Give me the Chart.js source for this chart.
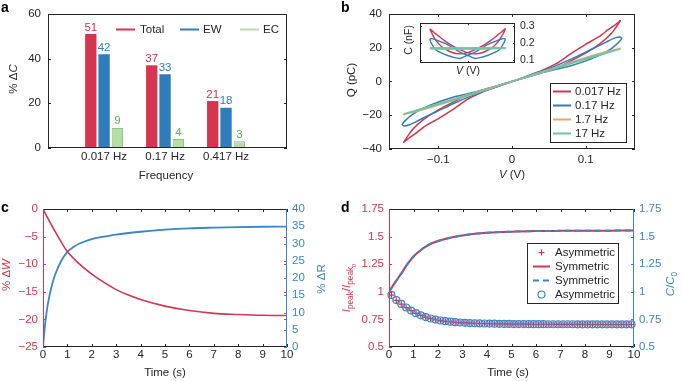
<!DOCTYPE html>
<html>
<head>
<meta charset="utf-8">
<script src="https://cdn.jsdelivr.net/npm/chart.js@4.4.1/dist/chart.umd.min.js"></script>
<style>
  body { margin: 0; background: #fff; width: 682px; height: 381px; position: relative; overflow: hidden; }
  canvas { position: absolute; }
</style>
</head>
<body>
<canvas id="chartA" width="341" height="190" style="left:0;top:0;width:341px;height:190px"></canvas>
<canvas id="chartB" width="341" height="190" style="left:341px;top:0;width:341px;height:190px"></canvas>
<canvas id="chartInset" width="140" height="68" style="left:396px;top:12px;width:140px;height:68px"></canvas>
<canvas id="chartC" width="341" height="191" style="left:0;top:190px;width:341px;height:191px"></canvas>
<canvas id="chartD" width="341" height="191" style="left:341px;top:190px;width:341px;height:191px"></canvas>
<script>
// ---- panel a: % change of capacitance per frequency
const freqLabels = ['0.017 Hz', '0.17 Hz', '0.417 Hz'];
const freqPos = [1, 2, 3];
const totalVals = [51, 37, 21];
const ewVals = [42, 33, 18];
const ecVals = [9, 4, 3];

// ---- panel b: Q-V loops (V in volts, Q in pC)
const vRed = [0, 0.02, 0.04, 0.06, 0.08, 0.10, 0.12, 0.135, 0.147, 0.14, 0.13, 0.12, 0.10, 0.08, 0.06, 0.04, 0.02, 0,
  -0.02, -0.04, -0.06, -0.08, -0.10, -0.12, -0.135, -0.147, -0.14, -0.13, -0.12, -0.10, -0.08, -0.06, -0.04, -0.02, 0];
const qRed = [0, 2.6, 5.3, 8, 12.2, 16.8, 22.5, 28.5, 36, 33.5, 30.5, 27, 22, 16.5, 10.5, 6.3, 3.1, 0,
  -2.6, -5.3, -8, -12.2, -16.8, -22.5, -28.5, -36, -33.5, -30.5, -27, -22, -16.5, -10.5, -6.3, -3.1, 0];
const vBlue = [0, 0.02, 0.04, 0.06, 0.08, 0.10, 0.12, 0.135, 0.145, 0.149, 0.147, 0.14, 0.13, 0.12, 0.10, 0.08, 0.06, 0.04, 0.02, 0,
  -0.02, -0.04, -0.06, -0.08, -0.10, -0.12, -0.135, -0.145, -0.149, -0.147, -0.14, -0.13, -0.12, -0.10, -0.08, -0.06, -0.04, -0.02, 0];
const qBlue = [0, 2.5, 5, 7.2, 9.3, 12.2, 15.8, 19.5, 23.2, 25.5, 26.3, 25.8, 23.8, 21.5, 17.4, 13.2, 9.4, 6, 3, 0,
  -2.5, -5, -7.2, -9.3, -12.2, -15.8, -19.5, -23.2, -25.5, -26.3, -25.8, -23.8, -21.5, -17.4, -13.2, -9.4, -6, -3, 0];
const vFast = [0, 0.03, 0.06, 0.09, 0.12, 0.147, 0.12, 0.09, 0.06, 0.03, 0,
  -0.03, -0.06, -0.09, -0.12, -0.147, -0.12, -0.09, -0.06, -0.03, 0];
const qOrange = [0, 3.8, 7.8, 11.9, 15.9, 19.6, 16.7, 12.7, 8.5, 4.3, 0,
  -3.8, -7.8, -11.9, -15.9, -19.6, -16.7, -12.7, -8.5, -4.3, 0];
const qTeal = [0, 4, 8, 12, 15.7, 19.2, 16.2, 12.4, 8.3, 4.1, 0,
  -4, -8, -12, -15.7, -19.2, -16.2, -12.4, -8.3, -4.1, 0];
const bTicksX = [-0.1, 0, 0.1];

// ---- panel b inset: C-V curves (C in nF)
const vInRed = [-0.147, -0.13, -0.11, -0.09, -0.06, -0.03, 0, 0.03, 0.06, 0.09, 0.11, 0.13, 0.147,
  0.13, 0.11, 0.09, 0.06, 0.03, 0, -0.03, -0.06, -0.09, -0.11, -0.13, -0.147];
const cInRed = [0.283, 0.262, 0.238, 0.215, 0.186, 0.163, 0.145, 0.138, 0.146, 0.168, 0.193, 0.232, 0.283,
  0.262, 0.238, 0.215, 0.186, 0.163, 0.145, 0.138, 0.146, 0.168, 0.193, 0.232, 0.283];
const vInBlue = [-0.147, -0.143, -0.135, -0.127, -0.115, -0.10, -0.08, -0.06, -0.03, 0, 0.03, 0.05, 0.07, 0.09, 0.11, 0.127, 0.14, 0.147,
  0.143, 0.135, 0.127, 0.115, 0.10, 0.08, 0.06, 0.03, 0, -0.03, -0.05, -0.07, -0.09, -0.11, -0.127, -0.14, -0.147];
const cInBlue = [0.225, 0.205, 0.185, 0.167, 0.152, 0.142, 0.13, 0.12, 0.111, 0.13, 0.148, 0.167, 0.185, 0.2, 0.212, 0.221, 0.226, 0.225,
  0.205, 0.185, 0.167, 0.152, 0.142, 0.13, 0.12, 0.111, 0.13, 0.148, 0.167, 0.185, 0.2, 0.212, 0.221, 0.226, 0.225];
const vInFlat = [-0.147, -0.1, -0.05, 0, 0.05, 0.1, 0.147, 0.1, 0.05, 0, -0.05, -0.1, -0.147];
const cInOrange = [0.171, 0.168, 0.167, 0.167, 0.168, 0.17, 0.172, 0.173, 0.172, 0.171, 0.17, 0.171, 0.171];
const cInTeal = [0.17, 0.169, 0.169, 0.169, 0.169, 0.17, 0.171, 0.171, 0.17, 0.17, 0.17, 0.17, 0.17];
const insetTicksY = [0.1, 0.2, 0.3];

// ---- panel c: %dW and %dR over time
const wTimes = [0, 0.25, 0.5, 0.75, 1, 1.5, 2, 2.5, 3, 3.5, 4, 5, 6, 7, 8, 9, 10];
const dW = [0, -2.1, -4.1, -6.0, -7.7, -10.0, -11.8, -13.3, -14.6, -15.6, -16.4, -17.6, -18.4, -18.9, -19.1, -19.25, -19.3];
const rTimes = [0, 0.05, 0.1, 0.2, 0.3, 0.4, 0.5, 0.75, 1, 1.25, 1.5, 2, 2.5, 3, 4, 5, 6, 7, 8, 9, 10];
const dR = [0, 4, 7.5, 12.5, 16, 18.8, 21, 25, 27.6, 29, 30, 31.3, 32, 32.6, 33.4, 34, 34.4, 34.6, 34.75, 34.85, 34.9];

// ---- panel d: normalised peak current and capacitance
const symTimes = [0, 0.25, 0.5, 0.75, 1, 1.25, 1.5, 1.75, 2, 2.5, 3, 3.5, 4, 5, 6, 7, 8, 9, 10];
const iPeakSym = [1, 1.085, 1.165, 1.25, 1.32, 1.37, 1.41, 1.44, 1.46, 1.49, 1.51, 1.525, 1.535, 1.545, 1.55, 1.552, 1.553, 1.554, 1.555];
const cRatioSym = [1, 1.085, 1.165, 1.25, 1.32, 1.37, 1.41, 1.44, 1.46, 1.49, 1.51, 1.525, 1.535, 1.545, 1.55, 1.552, 1.553, 1.554, 1.555];
const asymTimes = [0.1, 0.3, 0.5, 0.7, 0.9, 1.1, 1.3, 1.5, 1.7, 1.9, 2.1, 2.3, 2.5, 2.7, 2.9, 3.1, 3.3, 3.5, 3.7, 3.9,
  4.1, 4.3, 4.5, 4.7, 4.9, 5.1, 5.3, 5.5, 5.7, 5.9, 6.1, 6.3, 6.5, 6.7, 6.9, 7.1, 7.3, 7.5, 7.7, 7.9,
  8.1, 8.3, 8.5, 8.7, 8.9, 9.1, 9.3, 9.5, 9.7, 9.9];
const iPeakAsym = [0.97, 0.922, 0.888, 0.856, 0.829, 0.805, 0.786, 0.77, 0.757, 0.747, 0.739, 0.733, 0.728, 0.724, 0.721, 0.718, 0.716, 0.715, 0.713, 0.712,
  0.711, 0.71, 0.71, 0.709, 0.708, 0.708, 0.707, 0.707, 0.707, 0.706, 0.706, 0.706, 0.706, 0.706, 0.705, 0.705, 0.705, 0.705, 0.705, 0.705,
  0.705, 0.704, 0.704, 0.704, 0.704, 0.704, 0.704, 0.704, 0.704, 0.704];
const cRatioAsym = [0.972, 0.925, 0.89, 0.858, 0.83, 0.806, 0.787, 0.771, 0.758, 0.748, 0.74, 0.734, 0.729, 0.725, 0.722, 0.719, 0.717, 0.715, 0.714, 0.713,
  0.712, 0.711, 0.71, 0.709, 0.709, 0.708, 0.708, 0.708, 0.707, 0.707, 0.707, 0.707, 0.706, 0.706, 0.706, 0.706, 0.706, 0.706, 0.705, 0.705,
  0.705, 0.705, 0.705, 0.705, 0.705, 0.705, 0.705, 0.705, 0.705, 0.705];

const FAM = '"Liberation Sans", Arial, Helvetica, sans-serif';
const INK = '#262626';
const RED = '#d6344f';
const BLUE = '#2f7cbd';
const BLUE_AX = '#3a86c8';
const ORANGE = '#eba56a';
const TEAL = '#6cc6a6';
const GREEN_FILL = '#b3dfa6';
const GREEN_EDGE = '#8cc67f';
const GREEN_TXT = '#63a958';

Chart.defaults.font.family = FAM;
Chart.defaults.font.size = 11.5;
Chart.defaults.color = INK;

const font = (size, style) => ((style ? style + ' ' : '') + size + 'px ' + FAM);
const xy = (xs, ys) => xs.map((x, i) => ({ x: x, y: ys[i] }));
const fixW = w => scale => { scale.width = w; };
const fixH = h => scale => { scale.height = h; };
const setTicks = vals => scale => { scale.ticks = vals.map(v => ({ value: v })); };
const minus = v => (v < 0 ? '\u2212' + (-v) : String(v));
const plain = v => String(+v.toFixed(2));
const noGrid = { display: false, drawTicks: false };
const noBorder = { display: false };

function richText(ctx, o) {
  const size = o.size || 11.5;
  ctx.save();
  ctx.translate(o.x, o.y);
  if (o.rot) ctx.rotate(o.rot);
  ctx.fillStyle = o.color || INK;
  ctx.textBaseline = 'alphabetic';
  ctx.textAlign = 'left';
  const parts = o.segs.map(s => {
    const sz = s.sub === 2 ? size * 0.5 : s.sub ? size * 0.72 : size;
    ctx.font = font(sz, s.it ? 'italic' : '');
    return { s: s, sz: sz, w: ctx.measureText(s.t).width };
  });
  let cx = -parts.reduce((a, p) => a + p.w, 0) / 2;
  parts.forEach(p => {
    ctx.font = font(p.sz, p.s.it ? 'italic' : '');
    const dy = p.s.sub === 2 ? size * 0.5 : p.s.sub ? size * 0.3 : 0;
    ctx.fillText(p.s.t, cx, dy);
    cx += p.w;
  });
  ctx.restore();
}

function drawFrame(ctx, a, f) {
  const l = Math.round(a.left) + 0.5, r = Math.round(a.right) - 0.5;
  const t = Math.round(a.top) + 0.5, b = Math.round(a.bottom) - 0.5;
  ctx.lineWidth = 1;
  [['top', l, t, r, t], ['bottom', l, b, r, b], ['left', l, t - 0.5, l, b + 0.5], ['right', r, t - 0.5, r, b + 0.5]].forEach(s => {
    if (!f[s[0]]) return;
    ctx.strokeStyle = f[s[0]];
    ctx.beginPath(); ctx.moveTo(s[1], s[2]); ctx.lineTo(s[3], s[4]); ctx.stroke();
  });
}

function drawTicks(chart, t) {
  const ctx = chart.ctx, a = chart.chartArea, s = chart.scales[t.scale], len = t.len || 3;
  ctx.strokeStyle = t.color; ctx.lineWidth = 1;
  s.ticks.forEach(tk => {
    const p = Math.round(s.getPixelForValue(tk.value)) + 0.5;
    ctx.beginPath();
    t.sides.forEach(side => {
      if (side === 'bottom') { ctx.moveTo(p, a.bottom); ctx.lineTo(p, a.bottom - len); }
      if (side === 'top') { ctx.moveTo(p, a.top); ctx.lineTo(p, a.top + len); }
      if (side === 'left') { ctx.moveTo(a.left, p); ctx.lineTo(a.left + len, p); }
      if (side === 'right') { ctx.moveTo(a.right, p); ctx.lineTo(a.right - len, p); }
    });
    ctx.stroke();
  });
}

function drawLegend(ctx, lg) {
  if (lg.box) {
    const b = lg.box;
    ctx.fillStyle = '#fff'; ctx.fillRect(b[0], b[1], b[2], b[3]);
    ctx.strokeStyle = INK; ctx.lineWidth = 1; ctx.strokeRect(b[0] + 0.5, b[1] + 0.5, b[2], b[3]);
  }
  lg.items.forEach(it => {
    ctx.save();
    ctx.strokeStyle = it.color; ctx.lineWidth = 2;
    const mx = (it.x1 + it.x2) / 2;
    ctx.beginPath();
    if (it.kind === 'line' || it.kind === 'dash') {
      if (it.kind === 'dash') ctx.setLineDash([6, 4]);
      ctx.moveTo(it.x1, it.y); ctx.lineTo(it.x2, it.y);
    } else if (it.kind === 'plus') {
      ctx.lineWidth = 1.2;
      ctx.moveTo(mx - 3, it.y); ctx.lineTo(mx + 3, it.y);
      ctx.moveTo(mx, it.y - 3); ctx.lineTo(mx, it.y + 3);
    } else if (it.kind === 'circle') {
      ctx.lineWidth = 1.2;
      ctx.arc(mx, it.y, 3.5, 0, Math.PI * 2);
    }
    ctx.stroke();
    ctx.restore();
    ctx.fillStyle = INK; ctx.font = font(11.5); ctx.textAlign = 'left'; ctx.textBaseline = 'middle';
    ctx.fillText(it.text, it.tx, it.y + 0.5);
  });
}

function deco(cfg) {
  return {
    id: 'deco',
    beforeDatasetsDraw(chart) {
      if (!cfg.fill) return;
      const a = chart.chartArea;
      chart.ctx.save(); chart.ctx.fillStyle = '#fff'; chart.ctx.fillRect(a.left, a.top, a.width, a.height); chart.ctx.restore();
    },
    afterDatasetsDraw(chart) {
      const ctx = chart.ctx;
      ctx.save();
      (cfg.ticks || []).forEach(t => drawTicks(chart, t));
      drawFrame(ctx, chart.chartArea, cfg.frame);
      if (cfg.barLabels) {
        ctx.font = font(11.5); ctx.textAlign = 'center'; ctx.textBaseline = 'alphabetic';
        chart.data.datasets.forEach((ds, di) => {
          chart.getDatasetMeta(di).data.forEach((bar, i) => {
            ctx.fillStyle = cfg.barLabels[di];
            ctx.fillText(String(ds.data[i].y), bar.x, bar.y - 3.5);
          });
        });
      }
      if (cfg.legend) drawLegend(ctx, cfg.legend);
      (cfg.titles || []).forEach(t => richText(ctx, t));
      if (cfg.letter) {
        ctx.fillStyle = '#000'; ctx.font = font(14, 'bold'); ctx.textAlign = 'left'; ctx.textBaseline = 'alphabetic';
        ctx.fillText(cfg.letter[0], cfg.letter[1], cfg.letter[2]);
      }
      ctx.restore();
    }
  };
}

const base = {
  responsive: false, maintainAspectRatio: false, animation: false,
  plugins: { legend: { display: false }, tooltip: { enabled: false } }
};

// ---------- a
new Chart(document.getElementById('chartA'), {
  type: 'bar',
  data: {
    datasets: [
      { data: xy(freqPos, totalVals), backgroundColor: RED, categoryPercentage: 0.655, barPercentage: 0.85 },
      { data: xy(freqPos, ewVals), backgroundColor: BLUE, categoryPercentage: 0.655, barPercentage: 0.85 },
      { data: xy(freqPos, ecVals), backgroundColor: GREEN_FILL, borderColor: GREEN_EDGE, borderWidth: 1, categoryPercentage: 0.655, barPercentage: 0.85 }
    ]
  },
  options: Object.assign({}, base, {
    layout: { padding: { left: 0, top: 10, right: 54, bottom: 0 } },
    scales: {
      x: { type: 'linear', min: 0.08, max: 4, offset: false, grid: noGrid, border: noBorder,
        afterBuildTicks: setTicks(freqPos), afterFit: fixH(42),
        ticks: { padding: 1.5, maxRotation: 0, callback: (v, i) => freqLabels[i] } },
      y: { min: 0, max: 60, grid: noGrid, border: noBorder, afterFit: fixW(48),
        ticks: { stepSize: 20, padding: 7 } }
    }
  }),
  plugins: [deco({
    frame: { top: INK, bottom: INK, left: INK, right: INK },
    ticks: [{ scale: 'y', sides: ['left', 'right'], color: INK }],
    barLabels: [RED, BLUE, GREEN_TXT],
    legend: { items: [
      { kind: 'line', color: RED, x1: 116, x2: 135, y: 29.5, tx: 140, text: 'Total' },
      { kind: 'line', color: BLUE, x1: 180, x2: 199, y: 29.5, tx: 203, text: 'EW' },
      { kind: 'line', color: GREEN_FILL, x1: 240, x2: 259, y: 29.5, tx: 263, text: 'EC' }
    ] },
    titles: [
      { segs: [{ t: '% \u0394' }, { t: 'C', it: true }], x: 17, y: 79, rot: -Math.PI / 2 },
      { segs: [{ t: 'Frequency' }], x: 166, y: 179 }
    ],
    letter: ['a', 1, 11.5]
  })]
});

// ---------- b
const loop = (xs, ys, color, order, width) => ({
  data: xy(xs, ys), borderColor: color, borderWidth: width || 1.5, pointRadius: 0, tension: 0.2, order: order, fill: false
});
new Chart(document.getElementById('chartB'), {
  type: 'line',
  data: {
    datasets: [
      loop(vFast, qTeal, TEAL, 0),
      loop(vFast, qOrange, ORANGE, 1),
      loop(vBlue, qBlue, BLUE, 2),
      loop(vRed, qRed, RED, 3)
    ]
  },
  options: Object.assign({}, base, {
    layout: { padding: { left: 0, top: 10, right: 47, bottom: 0 } },
    scales: {
      x: { type: 'linear', min: -0.167, max: 0.167, grid: noGrid, border: noBorder,
        afterBuildTicks: setTicks(bTicksX), afterFit: fixH(41),
        ticks: { padding: 3.5, maxRotation: 0, callback: v => minus(v) } },
      y: { min: -40, max: 40, grid: noGrid, border: noBorder, afterFit: fixW(48),
        ticks: { stepSize: 20, padding: 7, callback: v => minus(v) } }
    }
  }),
  plugins: [deco({
    frame: { top: INK, bottom: INK, left: INK, right: INK },
    ticks: [{ scale: 'x', sides: ['bottom', 'top'], color: INK }, { scale: 'y', sides: ['left', 'right'], color: INK }],
    legend: { box: [209, 83, 76, 59], items: [
      { kind: 'line', color: RED, x1: 212, x2: 230, y: 91.5, tx: 234, text: '0.017 Hz' },
      { kind: 'line', color: BLUE, x1: 212, x2: 230, y: 105.5, tx: 234, text: '0.17 Hz' },
      { kind: 'line', color: ORANGE, x1: 212, x2: 230, y: 119.5, tx: 234, text: '1.7 Hz' },
      { kind: 'line', color: TEAL, x1: 212, x2: 230, y: 133.5, tx: 234, text: '17 Hz' }
    ] },
    titles: [
      { segs: [{ t: 'Q (pC)' }], x: 14, y: 80, rot: -Math.PI / 2 },
      { segs: [{ t: 'V', it: true }, { t: ' (V)' }], x: 171, y: 177.5 }
    ],
    letter: ['b', 0, 11.5]
  })]
});

// ---------- b inset
new Chart(document.getElementById('chartInset'), {
  type: 'line',
  data: {
    datasets: [
      loop(vInFlat, cInTeal, TEAL, 0, 2),
      loop(vInFlat, cInOrange, ORANGE, 1, 2),
      loop(vInBlue, cInBlue, BLUE, 2, 1.4),
      loop(vInRed, cInRed, RED, 3, 1.4)
    ]
  },
  options: Object.assign({}, base, {
    layout: { padding: { left: 24, top: 6, right: 0, bottom: 0 } },
    scales: {
      x: { type: 'linear', min: -0.185, max: 0.185, grid: noGrid, border: noBorder,
        afterBuildTicks: setTicks([0]), afterFit: fixH(17), ticks: { display: false } },
      y: { position: 'right', min: 0.085, max: 0.315, grid: noGrid, border: noBorder,
        afterBuildTicks: setTicks(insetTicksY), afterFit: fixW(21),
        ticks: { padding: 5, font: { size: 10.5 }, callback: v => v.toFixed(1) } }
    }
  }),
  plugins: [deco({
    fill: true,
    frame: { top: INK, bottom: INK, left: INK, right: INK },
    ticks: [{ scale: 'x', sides: ['bottom', 'top'], color: INK, len: 2 }, { scale: 'y', sides: ['left', 'right'], color: INK, len: 2 }],
    titles: [
      { segs: [{ t: 'C (nF)' }], x: 16, y: 28, rot: -Math.PI / 2, size: 10.5 },
      { segs: [{ t: 'V', it: true }, { t: ' (V)' }], x: 72, y: 62, size: 10.5 }
    ]
  })]
});

// ---------- c
new Chart(document.getElementById('chartC'), {
  type: 'line',
  data: {
    datasets: [
      { data: xy(wTimes, dW), yAxisID: 'yL', borderColor: RED, borderWidth: 1.6, pointRadius: 0, cubicInterpolationMode: 'monotone' },
      { data: xy(rTimes, dR), yAxisID: 'yR', borderColor: BLUE_AX, borderWidth: 1.8, pointRadius: 0, cubicInterpolationMode: 'monotone' }
    ]
  },
  options: Object.assign({}, base, {
    layout: { padding: { left: 0, top: 19, right: 0, bottom: 0 } },
    scales: {
      x: { type: 'linear', min: 0, max: 10, grid: noGrid, border: noBorder, afterFit: fixH(34),
        ticks: { stepSize: 1, padding: 1, maxRotation: 0 } },
      yL: { position: 'left', min: -25, max: 0, grid: noGrid, border: noBorder, afterFit: fixW(43),
        ticks: { stepSize: 5, padding: 5, color: RED, callback: v => minus(v) } },
      yR: { position: 'right', min: 0, max: 40, grid: noGrid, border: noBorder, afterFit: fixW(54),
        ticks: { stepSize: 5, padding: 5, color: BLUE_AX } }
    }
  }),
  plugins: [deco({
    frame: { top: INK, bottom: INK, left: RED, right: BLUE_AX },
    ticks: [
      { scale: 'x', sides: ['bottom', 'top'], color: INK },
      { scale: 'yL', sides: ['left', 'right'], color: RED },
      { scale: 'yR', sides: ['right'], color: BLUE_AX }
    ],
    titles: [
      { segs: [{ t: '% \u0394' }, { t: 'W', it: true }], x: 10, y: 85, rot: -Math.PI / 2, color: RED },
      { segs: [{ t: '% \u0394R' }], x: 325, y: 89, rot: -Math.PI / 2, color: BLUE_AX },
      { segs: [{ t: 'Time (s)' }], x: 165, y: 186 }
    ],
    letter: ['c', 1, 21.5]
  })]
});

// ---------- d
new Chart(document.getElementById('chartD'), {
  type: 'line',
  data: {
    datasets: [
      { data: xy(symTimes, cRatioSym), yAxisID: 'yR', borderColor: BLUE_AX, borderWidth: 2, borderDash: [6, 4], pointRadius: 0, cubicInterpolationMode: 'monotone', order: 0 },
      { data: xy(symTimes, iPeakSym), yAxisID: 'yL', borderColor: RED, borderWidth: 2, pointRadius: 0, cubicInterpolationMode: 'monotone', order: 1 },
      { data: xy(asymTimes, cRatioAsym), yAxisID: 'yR', showLine: false, pointStyle: 'circle', pointRadius: 3.5,
        pointBorderColor: BLUE_AX, pointBackgroundColor: 'rgba(0,0,0,0)', pointBorderWidth: 1.2, clip: 6, order: 2 },
      { data: xy(asymTimes, iPeakAsym), yAxisID: 'yL', showLine: false, pointStyle: 'cross', pointRadius: 3,
        pointBorderColor: RED, pointBorderWidth: 1.2, clip: 6, order: 3 }
    ]
  },
  options: Object.assign({}, base, {
    layout: { padding: { left: 0, top: 19, right: 0, bottom: 0 } },
    scales: {
      x: { type: 'linear', min: 0, max: 10, grid: noGrid, border: noBorder, afterFit: fixH(34),
        ticks: { stepSize: 1, padding: 1, maxRotation: 0 } },
      yL: { position: 'left', min: 0.5, max: 1.75, grid: noGrid, border: noBorder, afterFit: fixW(48),
        ticks: { stepSize: 0.25, padding: 5, color: RED, callback: plain } },
      yR: { position: 'right', min: 0.5, max: 1.75, grid: noGrid, border: noBorder, afterFit: fixW(48),
        ticks: { stepSize: 0.25, padding: 5, color: BLUE_AX, callback: plain } }
    }
  }),
  plugins: [deco({
    frame: { top: INK, bottom: INK, left: RED, right: BLUE_AX },
    ticks: [
      { scale: 'x', sides: ['bottom', 'top'], color: INK },
      { scale: 'yL', sides: ['left'], color: RED },
      { scale: 'yR', sides: ['right'], color: BLUE_AX }
    ],
    legend: { box: [186, 53, 91, 60], items: [
      { kind: 'plus', color: RED, x1: 192, x2: 209, y: 62.5, tx: 214, text: 'Asymmetric' },
      { kind: 'line', color: RED, x1: 192, x2: 209, y: 76.5, tx: 214, text: 'Symmetric' },
      { kind: 'dash', color: BLUE_AX, x1: 192, x2: 209, y: 90.5, tx: 214, text: 'Symmetric' },
      { kind: 'circle', color: BLUE_AX, x1: 192, x2: 209, y: 104.5, tx: 214, text: 'Asymmetric' }
    ] },
    titles: [
      { segs: [{ t: 'I', it: true }, { t: 'peak', sub: 1 }, { t: '/' }, { t: 'I', it: true }, { t: 'peak', sub: 1 }, { t: '0', sub: 2 }],
        x: 9, y: 98, rot: -Math.PI / 2, color: RED },
      { segs: [{ t: 'C', it: true }, { t: '/' }, { t: 'C', it: true }, { t: '0', sub: 1 }], x: 333, y: 94, rot: -Math.PI / 2, color: BLUE_AX },
      { segs: [{ t: 'Time (s)' }], x: 167, y: 186 }
    ],
    letter: ['d', 0, 21.5]
  })]
});
</script>
</body>
</html>
